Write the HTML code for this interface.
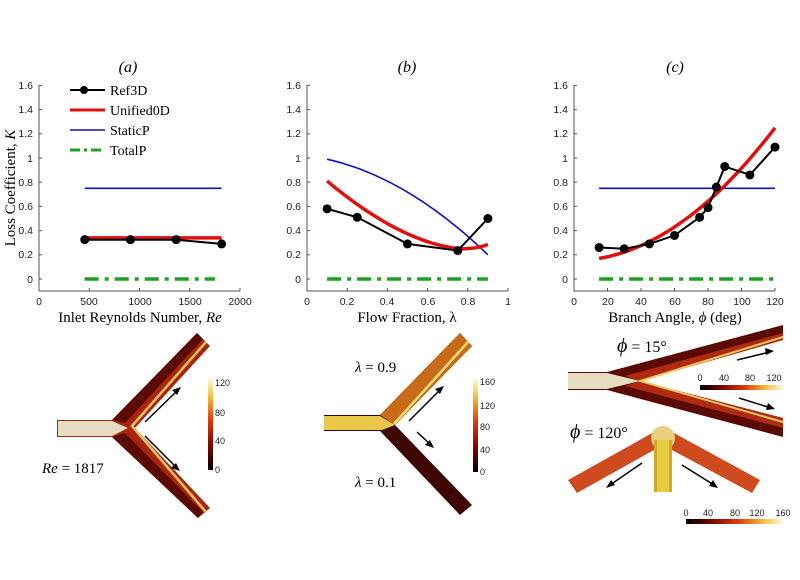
<!DOCTYPE html>
<html><head><meta charset="utf-8"><style>
html,body{margin:0;padding:0;background:#fff;}
svg{display:block;font-family:"Liberation Sans",sans-serif;}
.s{font-family:"Liberation Serif",serif;}
</style></head><body>
<svg width="800" height="580" viewBox="0 0 800 580" xmlns="http://www.w3.org/2000/svg">
<defs>
<linearGradient id="cb" x1="0" y1="1" x2="0" y2="0">
<stop offset="0" stop-color="#000"/><stop offset="0.3" stop-color="#8a0a00"/><stop offset="0.55" stop-color="#e0400a"/><stop offset="0.8" stop-color="#f5c040"/><stop offset="1" stop-color="#fffbe0"/></linearGradient>
<linearGradient id="cbh" x1="0" y1="0" x2="1" y2="0">
<stop offset="0" stop-color="#000"/><stop offset="0.3" stop-color="#8a0a00"/><stop offset="0.55" stop-color="#e0400a"/><stop offset="0.8" stop-color="#f5c040"/><stop offset="1" stop-color="#fffbe0"/></linearGradient>
</defs>
<g id="ax"></g>
<g font-size="10.5" fill="#222" text-anchor="end">
<text x="33" y="89">1.6</text><text x="33" y="113">1.4</text><text x="33" y="137">1.2</text><text x="33" y="162">1</text><text x="33" y="186">0.8</text><text x="33" y="210">0.6</text><text x="33" y="234">0.4</text><text x="33" y="258">0.2</text><text x="33" y="283">0</text>
<text x="301" y="89">1.6</text><text x="301" y="113">1.4</text><text x="301" y="137">1.2</text><text x="301" y="162">1</text><text x="301" y="186">0.8</text><text x="301" y="210">0.6</text><text x="301" y="234">0.4</text><text x="301" y="258">0.2</text><text x="301" y="283">0</text>
<text x="568" y="89">1.6</text><text x="568" y="113">1.4</text><text x="568" y="137">1.2</text><text x="568" y="162">1</text><text x="568" y="186">0.8</text><text x="568" y="210">0.6</text><text x="568" y="234">0.4</text><text x="568" y="258">0.2</text><text x="568" y="283">0</text>
</g>
<g font-size="10.5" fill="#222" text-anchor="middle">
<text x="39" y="305">0</text><text x="89" y="305">500</text><text x="140" y="305">1000</text><text x="190" y="305">1500</text><text x="240" y="305">2000</text>
<text x="307" y="305">0</text><text x="347" y="305">0.2</text><text x="387" y="305">0.4</text><text x="428" y="305">0.6</text><text x="468" y="305">0.8</text><text x="508" y="305">1</text>
<text x="574" y="305">0</text><text x="608" y="305">20</text><text x="641" y="305">40</text><text x="675" y="305">60</text><text x="708" y="305">80</text><text x="742" y="305">100</text><text x="775" y="305">120</text>
</g>
<text x="128" y="72" class="s" font-size="16" text-anchor="middle" font-style="italic">(a)</text>
<text x="407" y="72" class="s" font-size="16" text-anchor="middle" font-style="italic">(b)</text>
<text x="675" y="72" class="s" font-size="16" text-anchor="middle" font-style="italic">(c)</text>
<text class="s" font-size="15" transform="translate(15,188) rotate(-90)" text-anchor="middle">Loss Coefficient, <tspan font-style="italic">K</tspan></text>
<text x="140" y="322" class="s" font-size="15" text-anchor="middle">Inlet Reynolds Number, <tspan font-style="italic">Re</tspan></text>
<text x="407" y="322" class="s" font-size="15" text-anchor="middle">Flow Fraction, λ</text>
<text x="675" y="322" class="s" font-size="15" text-anchor="middle">Branch Angle, <tspan font-style="italic">ϕ</tspan> (deg)</text>
<line x1="70" y1="90" x2="105" y2="90" stroke="#000" stroke-width="2"/><circle cx="84" cy="90" r="4"/>
<text x="110" y="95" class="s" font-size="14">Ref3D</text>
<line x1="70" y1="110" x2="105" y2="110" stroke="#e01010" stroke-width="3"/>
<text x="110" y="115" class="s" font-size="14">Unified0D</text>
<line x1="70" y1="130" x2="105" y2="130" stroke="#1010c0" stroke-width="1.6"/>
<text x="110" y="135" class="s" font-size="14">StaticP</text>
<line x1="70" y1="150" x2="105" y2="150" stroke="#20a020" stroke-width="3" stroke-dasharray="10,4,3,4"/>
<text x="110" y="155" class="s" font-size="14">TotalP</text>
<g id="data"></g>
<!-- panel a image -->
<g>
<polygon points="57,420 112,420 197,333 210,346 135,428 210,508 198,518 112,437 57,437" fill="#a8260e"/>
<polygon points="112,420 197,333 203,339 125,423" fill="#5a0a02"/>
<polygon points="112,437 198,518 203,512 125,433" fill="#5a0a02"/>
<polyline points="206,342 132,426 206,512" fill="none" stroke="#f0c060" stroke-width="2.5"/>
<polygon points="58,421 112,421 128,428 112,436 58,436" fill="#e6dcc2"/>
<line x1="145" y1="422" x2="178" y2="390" stroke="#000" stroke-width="1.5"/><polygon points="181,387 172,390 177,395"/>
<line x1="145" y1="436" x2="177" y2="468" stroke="#000" stroke-width="1.5"/><polygon points="180,471 171,468 176,463"/>
<rect x="208" y="378" width="5" height="92" fill="url(#cb)"/>
<g font-size="9" fill="#222"><text x="215" y="386">120</text><text x="215" y="416">80</text><text x="215" y="444">40</text><text x="215" y="473">0</text></g>
<text x="42" y="473" class="s" font-size="15"><tspan font-style="italic">Re</tspan> = 1817</text>
</g>
<!-- panel b image -->
<g>
<polygon points="324,415 380,415 460,333 472,346 395,425 472,505 460,515 380,431 324,431" fill="#3e0602"/>
<polygon points="380,415 460,333 472,346 395,425" fill="#c86a18"/>
<polyline points="468,342 394,424" fill="none" stroke="#f5e070" stroke-width="2.5"/>
<polygon points="324,416 380,416 395,425 382,430 324,430" fill="#ecc84a"/>
<line x1="409" y1="421" x2="441" y2="389" stroke="#000" stroke-width="1.5"/><polygon points="444,386 435,389 440,394"/>
<line x1="417" y1="432" x2="431" y2="445" stroke="#000" stroke-width="1.5"/><polygon points="434,448 425,445 430,440"/>
<rect x="473" y="378" width="5" height="94" fill="url(#cb)"/>
<g font-size="9" fill="#222"><text x="480" y="385">160</text><text x="480" y="409">120</text><text x="480" y="430">80</text><text x="480" y="453">40</text><text x="480" y="475">0</text></g>
<text x="355" y="372" class="s" font-size="15"><tspan font-style="italic">λ</tspan> = 0.9</text>
<text x="355" y="487" class="s" font-size="15"><tspan font-style="italic">λ</tspan> = 0.1</text>
</g>
<!-- panel c images -->
<g>
<polygon points="568,372 607,372 783,325 783,340 640,381 783,418 783,437 607,390 568,390" fill="#5a0a02"/>
<polygon points="640,381 783,340 783,333 625,376" fill="#b02a10"/>
<polygon points="640,381 783,418 783,428 625,386" fill="#b02a10"/>
<polyline points="783,337 640,381 783,422" fill="none" stroke="#f0c860" stroke-width="2"/>
<polygon points="568,373 607,373 640,381 607,389 568,389" fill="#e6dcc2"/>
<line x1="737" y1="360" x2="770" y2="352" stroke="#000" stroke-width="1.5"/><polygon points="774,351 765,348 766,355"/>
<line x1="739" y1="398" x2="771" y2="408" stroke="#000" stroke-width="1.5"/><polygon points="775,409 768,403 766,410"/>
<rect x="700" y="385" width="83" height="5" fill="url(#cbh)"/>
<g font-size="9" fill="#222" text-anchor="middle"><text x="700" y="381">0</text><text x="724" y="381">40</text><text x="750" y="381">80</text><text x="774" y="381">120</text></g>
<text x="617" y="352" class="s" font-size="16"><tspan font-style="italic" font-size="20">ϕ</tspan> = 15°</text>
<polygon points="663,427 568,480 577,493 654,450" fill="#d04a20"/>
<polygon points="663,427 760,480 752,493 672,450" fill="#d04a20"/>
<circle cx="663" cy="438" r="12" fill="#e8d080"/>
<rect x="654" y="440" width="18" height="52" fill="#d4a82a"/>
<rect x="657" y="440" width="12" height="52" fill="#e6cc40"/>
<line x1="642" y1="463" x2="610" y2="485" stroke="#000" stroke-width="1.5"/><polygon points="606,488 611,480 615,485"/>
<line x1="682" y1="465" x2="714" y2="485" stroke="#000" stroke-width="1.5"/><polygon points="718,488 709,486 713,480"/>
<rect x="686" y="519" width="97" height="5" fill="url(#cbh)"/>
<g font-size="9" fill="#222" text-anchor="middle"><text x="686" y="516">0</text><text x="708" y="516">40</text><text x="735" y="516">80</text><text x="757" y="516">120</text><text x="783" y="516">160</text></g>
<text x="570" y="438" class="s" font-size="16"><tspan font-style="italic" font-size="20">ϕ</tspan> = 120°</text>
</g>
</svg>
<script>
const NS="http://www.w3.org/2000/svg";
const ax=document.getElementById("ax"),dg=document.getElementById("data");
function el(p,t,a){const e=document.createElementNS(NS,t);for(const k in a)e.setAttribute(k,a[k]);p.appendChild(e);return e;}
const Y=v=>279-v*121;
const panels=[
 {x0:39,X:v=>39+v*0.1005,ticks:[0,500,1000,1500,2000]},
 {x0:307,X:v=>307+v*201,ticks:[0,.2,.4,.6,.8,1]},
 {x0:574,X:v=>574+v*1.675,ticks:[0,20,40,60,80,100,120]}];
panels.forEach(p=>{
 const xe=p.X(p.ticks[p.ticks.length-1]);
 el(ax,"line",{x1:p.x0,y1:85,x2:p.x0,y2:291,stroke:"#555"});
 el(ax,"line",{x1:p.x0,y1:291,x2:xe,y2:291,stroke:"#555"});
 for(let i=0;i<=8;i++){const y=Y(i*0.2);el(ax,"line",{x1:p.x0,y1:y,x2:p.x0+3,y2:y,stroke:"#555"});}
 p.ticks.forEach(t=>{el(ax,"line",{x1:p.X(t),y1:291,x2:p.X(t),y2:288,stroke:"#555"});});
});
function line(pts,a){el(dg,"polyline",Object.assign({points:pts.map(q=>q[0].toFixed(1)+","+q[1].toFixed(1)).join(" "),fill:"none"},a));}
function ref(p,d){line(d.map(q=>[p.X(q[0]),Y(q[1])]),{stroke:"#000","stroke-width":2});d.forEach(q=>el(dg,"circle",{cx:p.X(q[0]),cy:Y(q[1]),r:4.5}));}
const red={stroke:"#e01010","stroke-width":3.5},blue={stroke:"#1010c0","stroke-width":1.6},grn={stroke:"#20a020","stroke-width":3.5,"stroke-dasharray":"14,6,4,6"};
let P=panels[0];
line([[P.X(455),Y(.75)],[P.X(1817),Y(.75)]],blue);
line([[P.X(455),Y(.34)],[P.X(1817),Y(.34)]],red);
line([[P.X(455),Y(0)],[P.X(1750),Y(0)]],grn);
ref(P,[[455,.325],[910,.325],[1365,.325],[1817,.29]]);
P=panels[1];
let b=[],r=[];
for(let x=.1;x<=.9001;x+=.02){const u=(x-.1)/.8;b.push([P.X(x),Y(0.99-0.3*u-0.49*u*u)]);}
line(b,blue);
for(let x=.1;x<=.9001;x+=.02){const v=x<.78?0.25+0.56*Math.pow((.78-x)/.68,1.7):0.25+0.035*Math.pow((x-.78)/.12,2);r.push([P.X(x),Y(v)]);}
line(r,red);
line([[P.X(.1),Y(0)],[P.X(.9),Y(0)]],grn);
ref(P,[[.1,.58],[.25,.51],[.5,.29],[.75,.235],[.9,.5]]);
P=panels[2];
line([[P.X(15),Y(.75)],[P.X(120),Y(.75)]],blue);
r=[];for(let x=15;x<=120.01;x+=3){const u=(x-15)/105;r.push([P.X(x),Y(0.17+0.25*u+0.83*u*u)]);}
line(r,red);
line([[P.X(15),Y(0)],[P.X(120),Y(0)]],grn);
ref(P,[[15,.26],[30,.25],[45,.29],[60,.36],[75,.51],[80,.59],[85,.76],[90,.93],[105,.86],[120,1.09]]);
</script>
</body></html>
